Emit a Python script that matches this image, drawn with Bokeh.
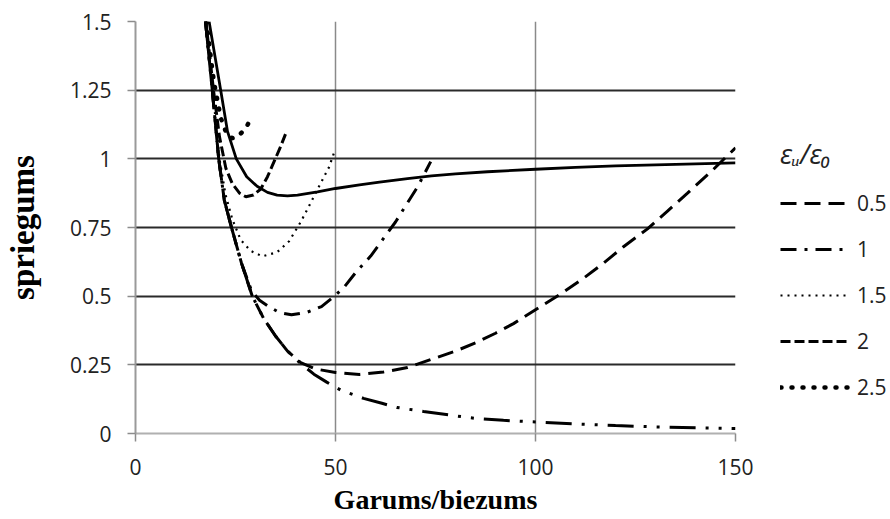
from bokeh.plotting import figure
from bokeh.models import Range1d, FixedTicker, Legend, LegendItem
from bokeh.embed import file_html
from bokeh.resources import INLINE

# ---- data ----
x_ticks = [0, 50, 100, 150]
x_tick_labels = ["0", "50", "100", "150"]
y_ticks = [0, 0.25, 0.5, 0.75, 1, 1.25, 1.5]
y_tick_labels = ["0", "0.25", "0.5", "0.75", "1", "1.25", "1.5"]

x_label = "Garums/biezums"
y_label = "spriegums"
legend_title = "εᵤ/ε₀"
legend_labels = ["0.5", "1", "1.5", "2", "2.5"]

# solid curve (no legend entry)
x_solid = [18.4, 21.3, 23, 25.2, 27.8, 30.4, 33, 35.4, 38, 40.5, 45.5, 50, 56, 61, 68, 74, 80, 88, 100, 110, 120, 135, 150]
y_solid = [1.5, 1.25, 1.1, 1.0, 0.935, 0.9, 0.878, 0.868, 0.865, 0.868, 0.88, 0.892, 0.905, 0.915, 0.928, 0.938, 0.945, 0.953, 0.962, 0.969, 0.974, 0.98, 0.985]

# dash-dot-dot envelope (no legend entry)
x_env = [17.5, 19.2, 20.8, 22.2, 24, 26.5, 29.2, 32, 35, 38, 41.3, 44.6, 47.8, 51.3, 57, 61.6, 65.3, 72, 79.6, 85, 92, 100, 110, 120, 130, 140, 150]
y_env = [1.5, 1.25, 1.0, 0.85, 0.75, 0.62, 0.5, 0.42, 0.355, 0.3, 0.255, 0.216, 0.187, 0.158, 0.128, 0.11, 0.095, 0.08, 0.065, 0.055, 0.048, 0.042, 0.035, 0.029, 0.024, 0.021, 0.018]

# eps ratio 0.5
x_05 = [17.5, 19.2, 20.8, 22.2, 24, 26.5, 29.2, 32, 35, 38, 41.3, 45, 50, 56, 62, 68, 74, 80, 85, 90, 94.5, 100.5, 106, 112, 117, 122, 128, 133, 138, 144, 150]
y_05 = [1.5, 1.25, 1.0, 0.85, 0.75, 0.62, 0.5, 0.42, 0.355, 0.3, 0.258, 0.235, 0.222, 0.215, 0.224, 0.24, 0.27, 0.3, 0.33, 0.365, 0.4, 0.455, 0.505, 0.565, 0.62, 0.68, 0.745, 0.81, 0.875, 0.955, 1.04]

# eps ratio 1
x_1 = [17.5, 19.2, 20.8, 22.2, 24, 26.5, 29, 31, 33, 36, 39, 43, 46.5, 49.5, 52, 55, 58.8, 62, 65, 68, 70.6, 73.8]
y_1 = [1.5, 1.25, 1.0, 0.85, 0.75, 0.62, 0.52, 0.485, 0.465, 0.44, 0.432, 0.442, 0.462, 0.497, 0.53, 0.585, 0.646, 0.71, 0.77, 0.84, 0.9, 0.99]

# eps ratio 1.5
x_15 = [17.5, 19.3, 21, 22.5, 24.2, 26.3, 28.8, 31.7, 35.4, 38.4, 41.3, 43.8, 45.9, 48.4, 49.7]
y_15 = [1.5, 1.25, 1.0, 0.87, 0.78, 0.705, 0.665, 0.645, 0.66, 0.7, 0.77, 0.84, 0.9, 0.97, 1.025]

# eps ratio 2
x_2 = [17.6, 19.5, 21, 22.6, 24.2, 26, 27.6, 29.5, 31.3, 33, 34.2, 36, 37.5]
y_2 = [1.5, 1.25, 1.08, 0.965, 0.91, 0.875, 0.862, 0.868, 0.89, 0.935, 0.975, 1.035, 1.09]

# eps ratio 2.5
x_25 = [17.7, 19.6, 21.3, 22.8, 24.2, 25.5, 27.5, 29]
y_25 = [1.5, 1.28, 1.15, 1.09, 1.075, 1.08, 1.11, 1.15]

# ---- figure ----
p = figure(frame_width=600, frame_height=412,
           x_range=Range1d(0, 150), y_range=Range1d(0, 1.5),
           output_backend="svg", toolbar_location=None,
           min_border_left=135, min_border_right=153,
           min_border_top=21, min_border_bottom=60)
p.outline_line_color = None
p.background_fill_color = "white"
p.border_fill_color = "white"

for ax, ticks, labels in ((p.xaxis[0], x_ticks, x_tick_labels), (p.yaxis[0], y_ticks, y_tick_labels)):
    ax.ticker = FixedTicker(ticks=ticks)
    ax.major_label_overrides = {t: l for t, l in zip(ticks, labels)}
    ax.minor_tick_line_color = None
    ax.major_tick_out = 8
    ax.major_tick_in = 0
    ax.major_tick_line_color = "#8c8c8c"
    ax.major_tick_line_width = 1.5
    ax.axis_line_color = "#9a9a9a"
    ax.axis_line_width = 2
    ax.major_label_text_font = "Open Sans"
    ax.major_label_text_font_size = "21px"
    ax.major_label_text_color = "#222222"
    ax.axis_label_text_font = "Liberation Serif"
    ax.axis_label_text_font_style = "bold"
    ax.axis_label_text_color = "black"

p.xaxis.axis_label = x_label
p.yaxis.axis_label = y_label
p.xaxis.axis_label_text_font_size = "28px"
p.yaxis.axis_label_text_font_size = "33px"
p.xaxis.major_label_standoff = 17
p.yaxis.major_label_standoff = 16
p.xaxis.axis_label_standoff = 6
p.yaxis.axis_label_standoff = 26
p.xaxis.axis_line_color = "#b0b0b0"

p.xgrid.ticker = FixedTicker(ticks=x_ticks)
p.ygrid.ticker = FixedTicker(ticks=y_ticks)
p.xgrid.grid_line_color = "#8a8a8a"
p.xgrid.grid_line_width = 1.5
p.ygrid.grid_line_color = "#2a2a2a"
p.ygrid.grid_line_width = 2

r_env = p.line(x_env, y_env, line_color="black", line_width=3, line_dash="26 10 3 10 3 10")
r_solid = p.line(x_solid, y_solid, line_color="black", line_width=2.8)
r05 = p.line(x_05, y_05, line_color="black", line_width=3, line_dash="16 8")
r1 = p.line(x_1, y_1, line_color="black", line_width=3, line_dash="16 8 3 8")
r15 = p.line(x_15, y_15, line_color="black", line_width=2.2, line_dash="2 5")
r2 = p.line(x_2, y_2, line_color="black", line_width=3, line_dash="10 4")
r25 = p.line(x_25, y_25, line_color="black", line_width=4.5, line_dash="1 10", line_cap="round")

items = [LegendItem(label=lab, renderers=[r]) for lab, r in zip(legend_labels, [r05, r1, r15, r2, r25])]
legend = Legend(items=items, location=(45, 32))
legend.title = legend_title
legend.title_text_font = "Open Sans"
legend.title_text_font_style = "italic"
legend.title_text_font_size = "27px"
legend.title_text_color = "#222222"
legend.title_standoff = 17
legend.label_text_font = "Open Sans"
legend.label_text_font_size = "21px"
legend.label_text_color = "#222222"
legend.glyph_width = 70
legend.glyph_height = 28
legend.label_height = 28
legend.label_width = 30
legend.spacing = 18
legend.label_standoff = 7
legend.padding = 0
legend.margin = 22
legend.border_line_color = None
legend.background_fill_alpha = 0
p.add_layout(legend, "right")

open("out.html", "w").write(file_html(p, INLINE))
